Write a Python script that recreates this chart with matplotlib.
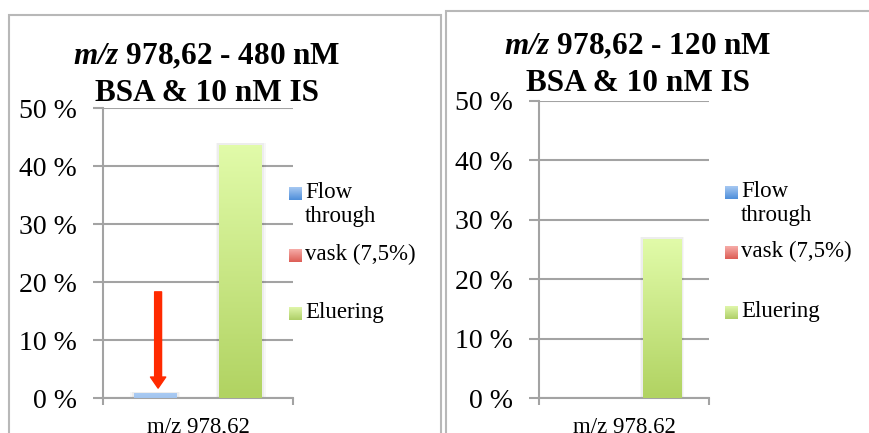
import numpy as np
import matplotlib
matplotlib.use("Agg")
import matplotlib.pyplot as plt
from matplotlib.patches import Rectangle
from matplotlib.colors import LinearSegmentedColormap

# ---- data -------------------------------------------------------------
category = "m/z 978,62"
series = ["Flow\nthrough", "vask (7,5%)", "Eluering"]
title_lines_480 = [r"$\mathbfit{m/z}$ 978,62 - 480 nM", "BSA & 10 nM IS"]
title_lines_120 = [r"$\mathbfit{m/z}$ 978,62 - 120 nM", "BSA & 10 nM IS"]
values_480 = [0.8, 0.0, 43.7]    # percent
values_120 = [0.0, 0.0, 26.8]    # percent
yticks = [0, 10, 20, 30, 40, 50]
ytick_labels = ["0 %", "10 %", "20 %", "30 %", "40 %", "50 %"]

# ---- style ------------------------------------------------------------
plt.rcParams["font.family"] = ["Liberation Serif", "DejaVu Serif"]
plt.rcParams["mathtext.fontset"] = "custom"
plt.rcParams["mathtext.rm"] = "Liberation Serif:bold"
plt.rcParams["mathtext.bf"] = "Liberation Serif:bold"
plt.rcParams["mathtext.bfit"] = "Liberation Serif:italic:bold"
plt.rcParams["mathtext.it"] = "Liberation Serif:italic:bold"

bar_grad = [("#a9cbf4", "#a2c4ee"), ("#f4a8a4", "#e06058"), ("#e1fba9", "#b1d362")]
legend_grad = [("#a6c8f2", "#4f8fda"), ("#f6aca8", "#dd5e56"), ("#e0f6aa", "#aecf68")]
grid_col = "#a3a3a3"
frame_col = "#b8b8b8"

W, H = 869, 433
fig = plt.figure(figsize=(W / 100, H / 100), dpi=100)


def fx(px):
    return px / W


def fy(py):
    return 1 - py / H


# panel frames (left, top, right) in pixels
for x0, y0, x1 in [(9, 15, 441), (446, 11, 900)]:
    fig.patches.append(Rectangle((fx(x0), -0.2), fx(x1 - x0), fy(y0) + 0.2,
                                 transform=fig.transFigure, fill=False,
                                 edgecolor=frame_col, linewidth=1.5,
                                 clip_on=False))

offsets = np.array([-0.225, 0.0, 0.225])
bar_w = 0.225

panels = [
    dict(vals=values_480, title=title_lines_480, ax=(103, 108, 293, 398),
         title_x=207, title_y=[53, 90], leg_x=289, leg_y=[193, 255, 313],
         arrow=True),
    dict(vals=values_120, title=title_lines_120, ax=(539, 101, 709, 398),
         title_x=638, title_y=[43, 80], leg_x=725, leg_y=[192, 252, 312],
         arrow=False),
]

for p in panels:
    x0, y0, x1, y1 = p["ax"]
    ax = fig.add_axes([fx(x0), fy(y1), fx(x1 - x0), (y1 - y0) / H])
    ax.set_facecolor("none")

    bars = ax.bar(offsets, p["vals"], width=bar_w, zorder=3,
                  edgecolor="none", facecolor="none")
    for b, (top, bot) in zip(bars, bar_grad):
        h = b.get_height()
        if h <= 0:
            continue
        cmap = LinearSegmentedColormap.from_list("g", [bot, top])
        grad = np.linspace(1, 0, 64).reshape(-1, 1)
        bx, bw = b.get_x(), b.get_width()
        # soft shadow beside the bar
        for k, a in [(0.018, 0.03), (0.01, 0.04)]:
            ax.add_patch(Rectangle((bx - k, 0), bw + 2 * k, h + 0.3,
                                   facecolor="#000000", alpha=a,
                                   edgecolor="none", zorder=2))
        im = ax.imshow(grad, cmap=cmap, aspect="auto",
                       extent=(bx, bx + bw, 0, h), zorder=3,
                       interpolation="bilinear")
        im.set_clip_path(b)

    ax.set_xlim(-0.5, 0.5)
    ax.set_ylim(0, 50)
    ax.set_yticks(yticks)
    ax.set_yticklabels(ytick_labels, fontsize=20)
    ax.yaxis.grid(True, color=grid_col, linewidth=1.5, zorder=1)
    ax.tick_params(axis="y", length=7, width=1.5, color=grid_col, pad=12)
    ax.set_xticks([0])
    ax.set_xticklabels([category], fontsize=16.5)
    ax.set_xticks([-0.5, 0.5], minor=True)
    ax.tick_params(axis="x", which="major", length=0, pad=14)
    ax.tick_params(axis="x", which="minor", length=5, width=1.5,
                   color=grid_col, direction="out")
    for s in ["top", "right"]:
        ax.spines[s].set_visible(False)
    for s in ["left", "bottom"]:
        ax.spines[s].set_color(grid_col)
        ax.spines[s].set_linewidth(1.5)
    ax.set_axisbelow(True)

    if p["arrow"]:
        ax.annotate("", xy=(-0.21, 1.7), xytext=(-0.21, 18.3),
                    arrowprops=dict(arrowstyle="simple,head_length=0.4,"
                                    "head_width=0.55,tail_width=0.25",
                                    color="#ff2a00", mutation_scale=20,
                                    shrinkA=0, shrinkB=0), zorder=5)

    # title, one line at a time
    for line, ty in zip(p["title"], p["title_y"]):
        fig.text(fx(p["title_x"]), fy(ty), line, ha="center",
                 va="center_baseline", fontsize=22.5, fontweight="bold")

    # legend
    lx = p["leg_x"]
    for ly, name, (top, bot) in zip(p["leg_y"], series, legend_grad):
        lax = fig.add_axes([fx(lx), fy(ly + 7), fx(13), 13 / H])
        cmap = LinearSegmentedColormap.from_list("g", [bot, top])
        lax.imshow(np.linspace(1, 0, 32).reshape(-1, 1), cmap=cmap,
                   aspect="auto", interpolation="bilinear")
        lax.set_axis_off()
        fig.text(fx(lx + 16), fy(ly - 11), name, ha="left", va="top",
                 fontsize=16.5, linespacing=1.2)

fig.savefig("out.png", dpi=100)
